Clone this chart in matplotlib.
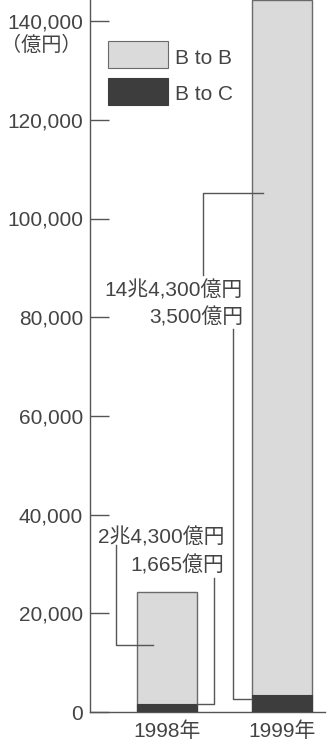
import matplotlib
matplotlib.use("Agg")
import matplotlib.pyplot as plt
from matplotlib.patches import Rectangle

plt.rcParams['font.family'] = ['Liberation Sans', 'Noto Sans CJK JP', 'DejaVu Sans']

# Data (億円)
years = ["1998年", "1999年"]
series = ["B to B", "B to C"]
b2b = [24300, 144300]
b2c = [1665, 3500]
b2b_labels = ["2兆4,300億円", "14兆4,300億円"]
b2c_labels = ["1,665億円", "3,500億円"]
yticks = [0, 20000, 40000, 60000, 80000, 100000, 120000, 140000]
unit_label = "（億円）"

LIGHT = "#dadada"
DARK = "#3d3d3d"
EDGE = "#6a6a6a"
TXT = "#444444"
LINE = "#555555"
FS = 15

W, H = 333, 741
fig = plt.figure(figsize=(W / 100, H / 100), dpi=100)
fig.patch.set_facecolor("white")

ymax = 145000
px_per_unit = 98.7 / 20000
ax_h = ymax * px_per_unit
ax = fig.add_axes([90 / W, 29 / H, (325 - 90) / W, ax_h / H])

x = [0, 1]
bw = 0.52
ax.bar(x, b2b, width=bw, color=LIGHT, edgecolor=EDGE, linewidth=1.0, zorder=2)
ax.bar(x, b2c, width=bw, color=DARK, edgecolor=DARK, linewidth=0.8, zorder=3)

ax.set_xlim(-0.67, 1.374)
ax.set_ylim(0, ymax)

for s in ["top", "right"]:
    ax.spines[s].set_visible(False)
for s in ["left", "bottom"]:
    ax.spines[s].set_color(LINE)
    ax.spines[s].set_linewidth(1.0)

ax.set_yticks(yticks)
ax.set_yticklabels([f"{v:,}" for v in yticks])
ax.tick_params(axis="y", direction="in", length=13.5, width=1.0, color=LINE,
               labelsize=FS, labelcolor=TXT, pad=5)
ax.set_xticks(x)
ax.set_xticklabels(years)
ax.tick_params(axis="x", length=0, labelsize=FS, labelcolor=TXT, pad=6.5)

# unit label beneath the top tick
fig.text(41 / W, 1 - 45 / H, unit_label, ha="center", va="center",
         fontsize=14.5, color=TXT)

# legend swatches
for i, (name, col) in enumerate(zip(series, [LIGHT, DARK])):
    top = 41 + i * 37
    fig.patches.append(Rectangle((108 / W, 1 - (top + 27) / H), 60 / W, 27 / H,
                                 transform=fig.transFigure, facecolor=col,
                                 edgecolor=EDGE if i == 0 else col, linewidth=0.8))
    fig.text(175 / W, 1 - (top + 17) / H, name, ha="left", va="center",
             fontsize=FS, color=TXT)

# value labels with leader lines
lw = 1.0
# 1998
ax.text(0.496, 35300, b2b_labels[0], ha="right", va="center", fontsize=FS, color=TXT)
ax.text(0.496, 29800, b2c_labels[0], ha="right", va="center", fontsize=FS, color=TXT)
ax.plot([-0.443, -0.443, -0.122], [33800, 13600, 13600], color=LINE, lw=lw, zorder=4)
ax.plot([0.409, 0.409, 0.262], [27100, 1620, 1620], color=LINE, lw=lw, zorder=4)
# 1999
ax.text(0.661, 85500, b2b_labels[1], ha="right", va="center", fontsize=FS, color=TXT)
ax.text(0.661, 80000, b2c_labels[1], ha="right", va="center", fontsize=FS, color=TXT)
ax.plot([0.313, 0.313, 0.835], [88600, 105200, 105200], color=LINE, lw=lw, zorder=4)
ax.plot([0.574, 0.574, 0.738], [77600, 2630, 2630], color=LINE, lw=lw, zorder=4)

fig.savefig("out.png", dpi=100)
